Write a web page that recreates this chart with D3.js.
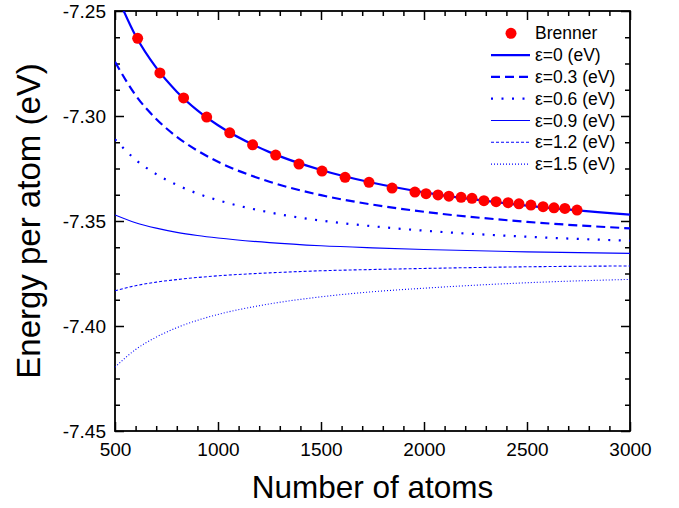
<!DOCTYPE html>
<html>
<head>
<meta charset="utf-8">
<script src="https://cdn.jsdelivr.net/npm/d3@7"></script>
<style>
  body { margin: 0; background: #fff; }
  svg { font-family: "Liberation Sans", Arial, sans-serif; }
  .axis path.domain { display: none; }
  .axis line { stroke: #000; stroke-width: 1.5; }
  .axis text { fill: #000; font-size: 19px; }
</style>
</head>
<body>
<svg></svg>
<script>
var margin = { top: 11, right: 49, bottom: 77, left: 115 },
    width = 679 - margin.left - margin.right,
    height = 508 - margin.top - margin.bottom;

// Brenner points (number of atoms, energy per atom in eV)
var brennerN = [610, 718, 833, 945, 1057, 1168, 1280, 1393, 1505, 1617, 1733, 1845, 1956,
    2010, 2068, 2121, 2180, 2233, 2291, 2350, 2408, 2461, 2519, 2578, 2631, 2684, 2743];
var brennerE = [-7.2630, -7.2795, -7.2914, -7.3005, -7.3080, -7.3137, -7.3186, -7.3229, -7.3262,
    -7.3292, -7.3316, -7.3343, -7.3362, -7.3370, -7.3376, -7.3382, -7.3387, -7.3392, -7.3403,
    -7.3408, -7.3413, -7.3418, -7.3424, -7.3432, -7.3437, -7.3440, -7.3448];

// model curves
var curveN = [500, 600, 700, 800, 900, 1000, 1250, 1500, 1750, 2000, 2500, 3000];
var eps00 = [-7.2405, -7.2618, -7.2770, -7.2884, -7.2973, -7.3044, -7.3172, -7.3257, -7.3318, -7.3364, -7.3427, -7.3470];
var eps03 = [-7.2742, -7.2901, -7.3014, -7.3099, -7.3165, -7.3218, -7.3313, -7.3377, -7.3422, -7.3456, -7.3504, -7.3535];
var eps06 = [-7.3111, -7.3208, -7.3277, -7.3328, -7.3369, -7.3401, -7.3459, -7.3498, -7.3525, -7.3546, -7.3575, -7.3594];
var eps09 = [-7.3471, -7.3508, -7.3534, -7.3554, -7.3569, -7.3581, -7.3603, -7.3618, -7.3628, -7.3636, -7.3647, -7.3654];
var eps12 = [-7.3832, -7.3808, -7.3791, -7.3779, -7.3769, -7.3761, -7.3747, -7.3737, -7.3731, -7.3726, -7.3718, -7.3714];
var eps15 = [-7.4196, -7.4112, -7.4053, -7.4008, -7.3973, -7.3945, -7.3895, -7.3861, -7.3837, -7.3820, -7.3794, -7.3778];

var seriesLabels = ["ε=0 (eV)", "ε=0.3 (eV)", "ε=0.6 (eV)", "ε=0.9 (eV)", "ε=1.2 (eV)", "ε=1.5 (eV)"];
var xTicks = [500, 1000, 1500, 2000, 2500, 3000];
var yTicks = [-7.45, -7.40, -7.35, -7.30, -7.25];

var styles = [
  { w: 2.2, dash: null },
  { w: 2.2, dash: "9,5" },
  { w: 2.2, dash: "2,8.5" },
  { w: 1.1, dash: null },
  { w: 1.1, dash: "3,2" },
  { w: 1.1, dash: "1,2" }
];

var x = d3.scaleLinear().domain([500, 3000]).range([0, width]);
var y = d3.scaleLinear().domain([-7.45, -7.25]).range([height, 0]);

var svg = d3.select("svg")
    .attr("width", width + margin.left + margin.right)
    .attr("height", height + margin.top + margin.bottom)
  .append("g")
    .attr("transform", "translate(" + margin.left + "," + margin.top + ")");

svg.append("clipPath").attr("id", "clip")
  .append("rect").attr("width", width).attr("height", height);

var xMinor = d3.range(600, 3000, 100).filter(function(v) { return v % 500 !== 0; });
var yMinor = d3.range(0, 17).map(function(i) { return -7.45 + i * 0.0125; })
    .filter(function(v, i) { return i % 4 !== 0; });

// bottom
svg.append("g").attr("class", "axis")
    .attr("transform", "translate(0," + height + ")")
    .call(d3.axisBottom(x).tickValues(xTicks).tickSize(-9).tickPadding(12).tickFormat(d3.format("d")));
svg.append("g").attr("class", "axis")
    .attr("transform", "translate(0," + height + ")")
    .call(d3.axisBottom(x).tickValues(xMinor).tickSize(-5).tickFormat(""));
// top
svg.append("g").attr("class", "axis")
    .call(d3.axisTop(x).tickValues(xTicks).tickSize(-9).tickFormat(""));
svg.append("g").attr("class", "axis")
    .call(d3.axisTop(x).tickValues(xMinor).tickSize(-5).tickFormat(""));
// left
svg.append("g").attr("class", "axis")
    .call(d3.axisLeft(y).tickValues(yTicks).tickSize(-9).tickPadding(9).tickFormat(d3.format(".2f")));
svg.append("g").attr("class", "axis")
    .call(d3.axisLeft(y).tickValues(yMinor).tickSize(-5).tickFormat(""));
// right
svg.append("g").attr("class", "axis")
    .attr("transform", "translate(" + width + ",0)")
    .call(d3.axisRight(y).tickValues(yTicks).tickSize(-9).tickFormat(""));
svg.append("g").attr("class", "axis")
    .attr("transform", "translate(" + width + ",0)")
    .call(d3.axisRight(y).tickValues(yMinor).tickSize(-5).tickFormat(""));

svg.selectAll(".axis text").each(function() {
  var t = d3.select(this);
  t.text(t.text().replace("−", "-"));
});

svg.append("rect")
    .attr("width", width)
    .attr("height", height)
    .style("fill", "none")
    .style("stroke", "#000")
    .style("stroke-width", 1.8);

var allSeries = [eps00, eps03, eps06, eps09, eps12, eps15];

var line = d3.line()
    .x(function(d) { return x(d[0]); })
    .y(function(d) { return y(d[1]); })
    .curve(d3.curveMonotoneX);

var curves = svg.append("g").attr("clip-path", "url(#clip)");
allSeries.forEach(function(s, i) {
  curves.append("path")
      .datum(curveN.map(function(n, j) { return [n, s[j]]; }))
      .attr("d", line)
      .style("fill", "none")
      .style("stroke", "#0000ff")
      .style("stroke-width", styles[i].w)
      .style("stroke-dasharray", styles[i].dash);
});

svg.append("g").selectAll("circle")
    .data(brennerN)
  .enter().append("circle")
    .attr("cx", function(d) { return x(d); })
    .attr("cy", function(d, i) { return y(brennerE[i]); })
    .attr("r", 5.5)
    .style("fill", "#ff0000");

// legend
var legend = svg.append("g").attr("transform", "translate(376,22.3)");
var rowH = 21.8;
legend.append("circle").attr("cx", 20).attr("cy", 0).attr("r", 5.5).style("fill", "#ff0000");
legend.append("text").attr("x", 44).attr("y", 0).attr("dy", "0.35em")
    .style("font-size", "17.5px").text("Brenner");
seriesLabels.forEach(function(lab, i) {
  var yy = (i + 1) * rowH;
  legend.append("line")
      .attr("x1", 0).attr("x2", 39).attr("y1", yy).attr("y2", yy)
      .style("stroke", "#0000ff")
      .style("stroke-width", styles[i].w)
      .style("stroke-dasharray", styles[i].dash);
  legend.append("text").attr("x", 44).attr("y", yy).attr("dy", "0.35em")
      .style("font-size", "17.5px").text(lab);
});

// axis titles
svg.append("text")
    .attr("x", width / 2)
    .attr("y", height + 67)
    .attr("text-anchor", "middle")
    .style("font-size", "31.5px")
    .text("Number of atoms");

svg.append("text")
    .attr("transform", "rotate(-90)")
    .attr("x", -height / 2)
    .attr("y", -75)
    .attr("text-anchor", "middle")
    .style("font-size", "33px")
    .text("Energy per atom (eV)");
</script>
</body>
</html>
